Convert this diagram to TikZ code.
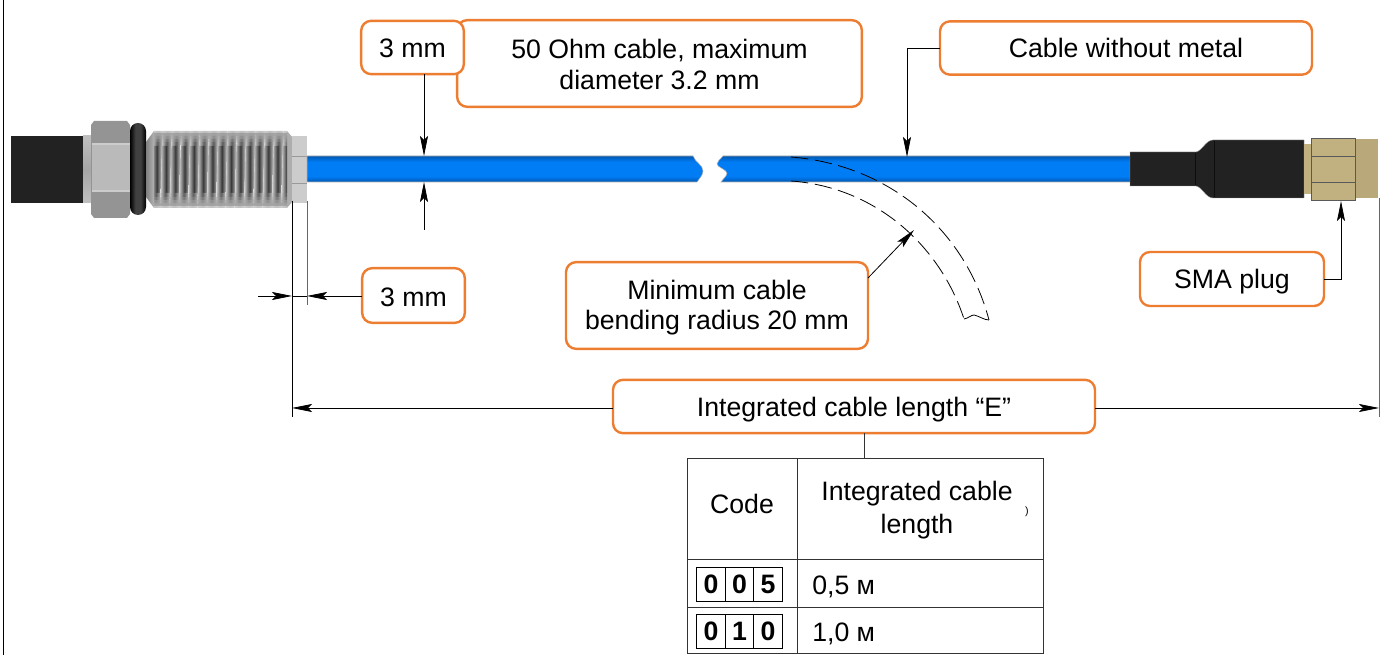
\documentclass[tikz,border=0pt]{standalone}
\usepackage{fontspec}
\setmainfont{Liberation Sans}
\usetikzlibrary{arrows.meta}
\pgfdeclarelayer{bg}
\pgfsetlayers{bg,main}
\definecolor{callorange}{HTML}{ED7D31}
\definecolor{rubber}{HTML}{222222}
\definecolor{brass}{HTML}{C2B180}
\definecolor{cableedge}{HTML}{0058B0}
\definecolor{cablecore}{HTML}{007CF5}
\pgfdeclareverticalshading{cableblue}{100bp}{color(0bp)=(cableedge); color(25bp)=(cableedge); color(36bp)=(cablecore); color(64bp)=(cablecore); color(75bp)=(cableedge); color(100bp)=(cableedge)}
\pgfdeclarehorizontalshading{ringblack}{100bp}{color(0bp)=(black); color(25bp)=(black); color(42bp)=(black!75); color(58bp)=(black!75); color(75bp)=(black); color(100bp)=(black)}
\newcommand{\low}[2]{\raisebox{-#1}[\height][\depth]{#2}}
\tikzset{empty/.style={draw=none, fill=none, minimum size=0mm, inner sep=0mm}}
\tikzset{callout/.style={draw=callorange, line width=1.8pt, rounded corners=7.5pt, fill=white, align=center, inner sep=0pt, outer sep=0pt, font=\fontsize{20}{23.5}\selectfont}}
\tikzset{cell/.style={draw=black!80, line width=0.7pt, inner sep=0pt, outer sep=0pt, align=center, font=\fontsize{20}{24}\selectfont}}
\tikzset{digit/.style={draw=black, line width=0.7pt, inner sep=0pt, outer sep=0pt, minimum width=21.5pt, minimum height=25.5pt, font=\fontsize{20}{24}\selectfont\bfseries}}
\tikzset{leader/.style={draw=black, line width=0.6pt}}
\tikzset{dim/.style={leader, -{Stealth[length=15pt, width=6pt, inset=3pt]}}}
\tikzset{bluecable/.style={shading=cableblue, draw=black!30, line width=0.4pt}}
\begin{document}
\begin{tikzpicture}[x=0.75pt, y=-0.75pt]
    \useasboundingbox (0,0) rectangle (1382,655);
    \coordinate (edget) at (3,0);
    \coordinate (edgeb) at (3,655);
    \draw[line width=0.7pt] (edget) -- (edgeb);

    \begin{pgfonlayer}{bg}
        % connector, left
        \fill[rubber] (11,136) rectangle (83,203);
        \shade[top color=black!25, bottom color=black!25, middle color=black!35] (83,136) rectangle (91,203);
        \fill[black!42] (91,125) -- (94,121) -- (127,121) -- (130,125) -- (130,214) -- (127,218) -- (94,218) -- (91,214) -- cycle;
        \fill[black!27] (92,145) rectangle (130,190);
        \draw[black!20, line width=1pt] (92,144) -- (130,144);
        \draw[black!20, line width=1pt] (92,191) -- (130,191);
        \shade[shading=ringblack] (130,131) arc[start angle=180, end angle=360, x radius=8, y radius=8] -- (146,207) arc[start angle=0, end angle=180, x radius=8, y radius=8] -- cycle;
        \shade[left color=black!50, right color=black!30] (146,142) -- (154,131) -- (154,208) -- (146,197) -- cycle;
        \fill[black!32] (287,131) -- (293,138) -- (293,201) -- (287,208) -- cycle;
        \begin{scope}
            \clip (154,131) rectangle (287,208);
            \foreach \ya/\yb/\lt/\dk in {131/133/20/25, 133/136/35/38, 136/139/32/45, 139/142/28/55, 142/146/24/65, 146/193/20/78, 193/197/24/65, 197/200/28/55, 200/203/32/45, 203/206/35/38, 206/208/20/25} {
                \foreach \i in {0,...,14} {
                    \shade[shift={(152+9.3*\i,170)}, xslant=0.03, left color=black!\lt, right color=black!\lt, middle color=black!\dk] (0,\ya-170) rectangle (9.4,\yb-170);
                }
            }
        \end{scope}
        \fill[black!20] (292,136) rectangle (307,203);
        \draw[black!40, line width=0.5pt] (292,156) -- (307,156);
        \draw[black!40, line width=0.5pt] (292,183) -- (307,183);

        % cable
        \shade[bluecable] (307,156) -- (693,156) .. controls (695,162) and (703,165) .. (703,171) .. controls (703,175) and (699,179) .. (697,182) -- (307,182) -- cycle;
        \shade[bluecable] (723,156) .. controls (720,160) and (717,161) .. (717,164) .. controls (717,167) and (727,170) .. (727,173) .. controls (727,176) and (723,179) .. (721,182) -- (1131,182) -- (1131,156) -- cycle;

        % connector, right
        \fill[rubber, draw=black!40, line width=0.3pt] (1130,152) -- (1196,152) .. controls (1202,151) and (1206,140) .. (1213,140) -- (1304,140) -- (1304,198) -- (1213,198) .. controls (1206,198) and (1202,187) .. (1196,186) -- (1130,186) -- cycle;
        \draw[black!95, line width=0.4pt] (1195,153) -- (1195,185);
        \draw[black!95, line width=0.4pt] (1214,141) -- (1214,197);
        \fill[brass] (1304,144) rectangle (1311,194);
        \fill[brass] (1311,138) rectangle (1355,200);
        \fill[brass!95!black] (1355,139) rectangle (1378,198);
        \draw[black!65, line width=0.5pt] (1311,138) rectangle (1355,200);
        \draw[black!65, line width=0.5pt] (1311,156) -- (1355,156);
        \draw[black!65, line width=0.5pt] (1311,182) -- (1355,182);
    \end{pgfonlayer}

    % dashed bend
    \coordinate (oa) at (791,157);
    \coordinate (ob) at (989,320);
    \coordinate (ia) at (791,181);
    \coordinate (ib) at (964,319);
    \draw[dash pattern=on 13pt off 5pt, line width=0.6pt] (oa) .. controls (890,165) and (965,230) .. (ob);
    \draw[dash pattern=on 13pt off 5pt, line width=0.6pt] (ia) .. controls (875,187) and (940,245) .. (ib);
    \draw[line width=0.6pt] (ib) .. controls (969,318) and (971,315) .. (974,315) .. controls (979,316) and (984,320) .. (ob);

    % boxes
    \node (ohm) at (659.5,63.5) [callout, minimum width=303.5pt, minimum height=65pt] {\low{.75pt}{50 Ohm cable, maximum}\\\low{.75pt}{diameter 3.2 mm}};
    \node (mmt) at (412.5,47.5) [callout, minimum width=77pt, minimum height=40pt] {\low{.75pt}{3 mm}};
    \node (nom) at (1126,48) [callout, minimum width=279pt, minimum height=40pt] {Cable without metal};
    \node (sma) at (1232,279) [callout, minimum width=138pt, minimum height=40.5pt] {\low{2.25pt}{SMA plug}};
    \node (mmb) at (413.5,295.5) [callout, minimum width=77pt, minimum height=41pt] {\low{1.5pt}{3 mm}};
    \node (rad) at (717,305.5) [callout, minimum width=226.5pt, minimum height=65pt] {\low{2.25pt}{Minimum cable}\\\low{.75pt}{bending radius 20 mm}};
    \node (len) at (854,406.5) [callout, minimum width=361.5pt, minimum height=40pt] {\low{2.25pt}{Integrated cable length “E”}};

    % dimension ends
    \coordinate (dt) at (424,156);
    \coordinate (db) at (424,182);
    \coordinate (df) at (424,230);
    \coordinate (nk) at (907,48);
    \coordinate (ne) at (907,157);
    \coordinate (sk) at (1341,279);
    \coordinate (se) at (1341,201);
    \coordinate (rs) at (868,278);
    \coordinate (re) at (914,230);
    \coordinate (ws) at (258,296);
    \coordinate (wa) at (292,296);
    \coordinate (wb) at (307,296);
    \coordinate (lt) at (292,201);
    \coordinate (lb) at (292,417);
    \coordinate (mt) at (307,201);
    \coordinate (mb) at (307,305);
    \coordinate (rt) at (1379,198);
    \coordinate (rb) at (1379,417);
    \coordinate (la) at (292,408);
    \coordinate (ra) at (1379,408);
    \coordinate (tj) at (864,458);

    \draw[dim] (mmt.south -| dt) -- (dt);
    \draw[dim] (df) -- (db);
    \draw[dim] (nom.west) -- (nk) -- (ne);
    \draw[dim] (sma.east) -- (sk) -- (se);
    \draw[dim] (rs) -- (re);
    \draw[dim] (ws) -- (wa);
    \draw[dim] (mmb.west |- wb) -- (wb);
    \draw[leader] (wa) -- (wb);
    \draw[leader] (lt) -- (lb);
    \draw[leader, black!60] (mt) -- (mb);
    \draw[leader, black!60] (rt) -- (rb);
    \draw[dim] (len.west |- la) -- (la);
    \draw[dim] (len.east |- ra) -- (ra);
    \draw[leader, black!80] (len.south -| tj) -- (tj);

    % table
    \node (code) at (742,508.5) [cell, minimum width=82.5pt, minimum height=75.75pt] {\low{-3.75pt}{Code}};
    \node (head) at (920,508.5) [cell, minimum width=184.5pt, minimum height=75.75pt] {};
    \node (headt) at (917,510) [empty, align=center, font=\fontsize{20}{24.5}\selectfont] {Integrated cable\\length};
    \node (mark) at (1027,512) [empty, font=\fontsize{8}{8}\selectfont] {)};
    \node (ca) at (742,583) [cell, minimum width=82.5pt, minimum height=36pt] {};
    \node (va) at (920,583) [cell, minimum width=184.5pt, minimum height=36pt] {};
    \node (cb) at (742,630) [cell, minimum width=82.5pt, minimum height=34.5pt] {};
    \node (vb) at (920,630) [cell, minimum width=184.5pt, minimum height=34.5pt] {};
    \node (vat) at (812,587) [empty, anchor=west, font=\fontsize{20}{24}\selectfont] {0,5 м};
    \node (vbt) at (812,634) [empty, anchor=west, font=\fontsize{20}{24}\selectfont] {1,0 м};
    \node (a1) at (711,584) [digit] {0};
    \node (a2) at (739.5,584) [digit] {0};
    \node (a3) at (768,584) [digit] {5};
    \node (b1) at (711,631) [digit] {0};
    \node (b2) at (739.5,631) [digit] {1};
    \node (b3) at (768,631) [digit] {0};
\end{tikzpicture}
\end{document}
